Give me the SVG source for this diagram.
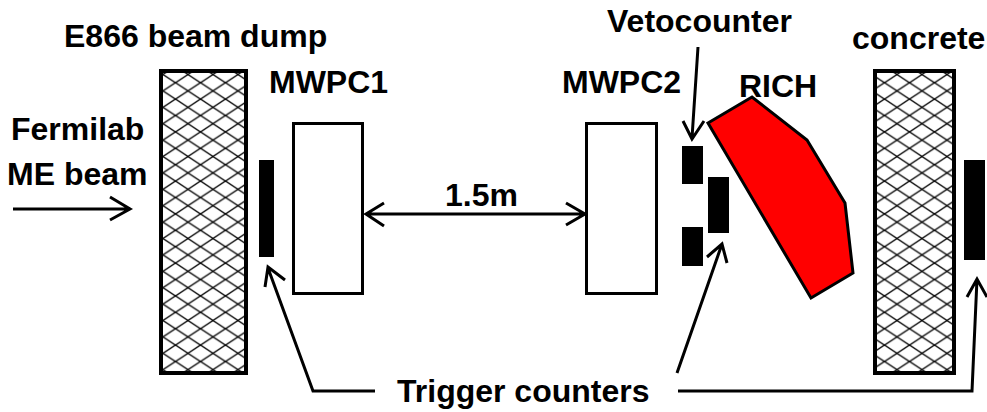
<svg xmlns="http://www.w3.org/2000/svg" width="987" height="412" viewBox="0 0 987 412">
<style>
text{font-family:"Liberation Sans",Arial,sans-serif;font-weight:bold;font-size:32px;fill:#000}
.hatch{stroke:#000;stroke-width:4}
.box{fill:#fff;stroke:#000;stroke-width:3}
.bar{fill:#000}
.line{fill:none;stroke:#000;stroke-width:3}
</style>
<defs>
<pattern id="cross" patternUnits="userSpaceOnUse" x="175.500" y="66.300" width="25" height="16.400">
<rect width="25" height="16.400" fill="#fff"/>
<path d="M0 0L25 16.400M0 16.400L25 0" stroke="#000" stroke-width="1.400" fill="none"/>
</pattern>
<pattern id="cross2" href="#cross" x="884.500" y="66.300"/>
</defs>
<rect width="987" height="412" fill="#fff"/>
<g id="beam-dump"><rect class="hatch" fill="url(#cross)" x="161" y="71" width="85" height="302"/><text x="64" y="47">E866 beam dump</text></g>
<g id="concrete"><rect class="hatch" fill="url(#cross2)" x="875" y="71" width="79" height="302"/><text x="852" y="49">concrete</text></g>
<g id="beam-label"><text x="11" y="140">Fermilab</text><text x="7" y="185">ME beam</text></g>
<g id="mwpc1"><rect class="box" x="293.500" y="123.500" width="69" height="170"/><text x="269" y="93">MWPC1</text></g>
<g id="mwpc2"><rect class="box" x="586.500" y="123.500" width="70" height="170"/><text x="562" y="93">MWPC2</text></g>
<g id="rich"><text x="739" y="97">RICH</text><polygon points="708,123 752,97 807,140 845,203 853,273 811,298" fill="#f00" stroke="#000" stroke-width="3"/></g>
<g id="trigger-1"><rect class="bar" x="259" y="160" width="15" height="97"/></g>
<g id="veto"><rect class="bar" x="682" y="146" width="21" height="38"/><text x="607" y="32">Vetocounter</text></g>
<g id="trigger-2"><rect class="bar" x="708" y="177" width="21" height="56"/></g>
<g id="veto-2"><rect class="bar" x="682" y="227" width="21" height="39"/></g>
<g id="trigger-3"><rect class="bar" x="964" y="160" width="21" height="100"/></g>
<g id="distance"><text x="445" y="206">1.5m</text></g>
<g id="trigger-label"><text x="397" y="402">Trigger counters</text></g>
<g id="connectors">
<path class="line" d="M13 209H129M110 197L130 209L110 220"/>
<path class="line" d="M366 214H584M384 203L366 214L384 226M566 203L585 214L566 225"/>
<path class="line" d="M698 47L692 138M683 121L692 139L704 121"/>
<path class="line" d="M677 373L722 244M707 257L722 244L727 263"/>
<path class="line" d="M375 391H313L268 268M265 287L268 267L285 280"/>
<path class="line" d="M678 391H972L977 279M967 297L977 279L987 297"/>
</g>
</svg>
